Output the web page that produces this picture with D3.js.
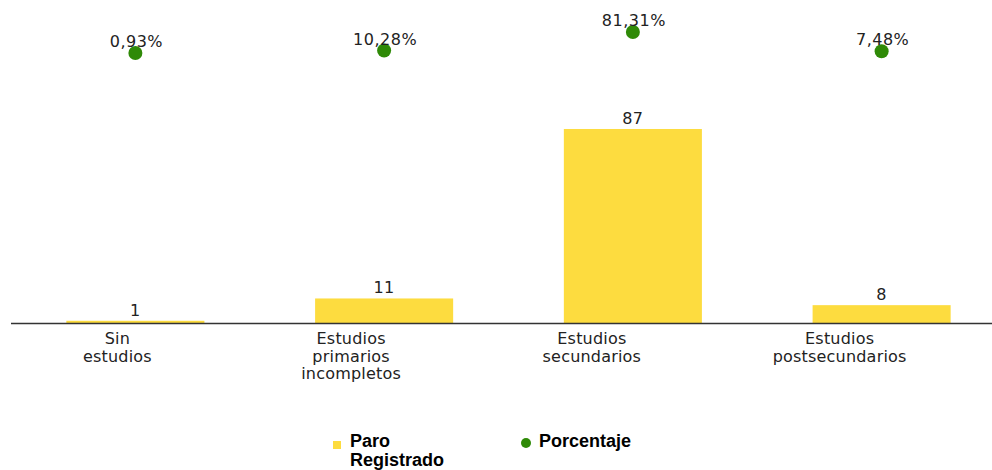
<!DOCTYPE html>
<html>
<head>
<meta charset="utf-8">
<script src="https://cdn.jsdelivr.net/npm/d3@7"></script>
<style>
  html, body { margin: 0; padding: 0; background: #fff; }
  svg { display: block; }
</style>
</head>
<body>
<div id="chart"></div>
<script>
// ==== data ====
const categories = [
  'Sin estudios',
  'Estudios primarios incompletos',
  'Estudios secundarios',
  'Estudios postsecundarios',
]
const categoryLines = [
  ['Sin', 'estudios'],
  ['Estudios', 'primarios', 'incompletos'],
  ['Estudios', 'secundarios'],
  ['Estudios', 'postsecundarios'],
]
const paroRegistrado = [1, 11, 87, 8]
const porcentaje = [0.93, 10.28, 81.31, 7.48]
const seriesNames = ['Paro Registrado', 'Porcentaje']

// ==== layout ====
const W = 992
const H = 470
const BAR_COLOR = '#fddc3f'
const DOT_COLOR = '#2f8a07'
const TEXT_COLOR = '#222'
const FONT = '"DejaVu Sans", Verdana, sans-serif'
// etiquetas de categoría algo desplazadas a la izquierda, como en el original
const labelShift = [-18, -33, -41, -42]

const svg = d3.select('#chart').append('svg')
  .attr('width', W)
  .attr('height', H)

const x = d3.scaleBand().domain(categories).range([11, 1006])
const barW = x.bandwidth() * 0.555

// barras: 0 -> eje, 100 -> y=100
const yBar = d3.scaleLinear().domain([0, 100]).range([323, 100])
// puntos de porcentaje en su propia escala, arriba del todo
const yPct = d3.scaleLinear().domain([0, 100]).range([53.2, 27.1])

const rows = categories.map((c, i) => ({
  cat: c,
  lines: categoryLines[i],
  paro: paroRegistrado[i],
  pct: porcentaje[i],
  shift: labelShift[i],
}))

const cx = d => x(d.cat) + x.bandwidth() / 2

// barras
svg.append('g').selectAll('rect')
  .data(rows)
  .join('rect')
  .attr('x', d => cx(d) - barW / 2)
  .attr('y', d => yBar(d.paro))
  .attr('width', barW)
  .attr('height', d => yBar(0) - yBar(d.paro))
  .attr('fill', BAR_COLOR)

// valores sobre las barras
svg.append('g').selectAll('text')
  .data(rows)
  .join('text')
  .attr('x', d => cx(d))
  .attr('y', d => yBar(d.paro) - 5)
  .attr('text-anchor', 'middle')
  .attr('font-family', FONT)
  .attr('font-size', 16)
  .attr('letter-spacing', 0.4)
  .attr('fill', TEXT_COLOR)
  .text(d => d.paro)

// eje
svg.append('line')
  .attr('x1', 11)
  .attr('x2', W)
  .attr('y1', yBar(0) + 0.5)
  .attr('y2', yBar(0) + 0.5)
  .attr('stroke', '#333')
  .attr('stroke-width', 1.5)

// etiquetas de categoría
const catG = svg.append('g').selectAll('text')
  .data(rows)
  .join('text')
  .attr('text-anchor', 'middle')
  .attr('font-family', FONT)
  .attr('font-size', 16)
  .attr('letter-spacing', 0.2)
  .attr('fill', TEXT_COLOR)
catG.selectAll('tspan')
  .data(d => d.lines.map(l => ({ l, d })))
  .join('tspan')
  .attr('x', o => cx(o.d) + o.d.shift)
  .attr('y', (o, i) => 344 + i * 17.5)
  .text(o => o.l)

// puntos de porcentaje
svg.append('g').selectAll('circle')
  .data(rows)
  .join('circle')
  .attr('cx', d => cx(d))
  .attr('cy', d => yPct(d.pct))
  .attr('r', 7)
  .attr('fill', DOT_COLOR)

const fmtPct = v => d3.format('.2f')(v).replace('.', ',') + '%'
svg.append('g').selectAll('text')
  .data(rows)
  .join('text')
  .attr('x', d => cx(d) + 1)
  .attr('y', d => yPct(d.pct) - 6)
  .attr('text-anchor', 'middle')
  .attr('font-family', FONT)
  .attr('font-size', 16)
  .attr('letter-spacing', 0.5)
  .attr('fill', TEXT_COLOR)
  .text(d => fmtPct(d.pct))

// leyenda
const legend = svg.append('g')
  .attr('font-family', '"Liberation Sans", Arial, sans-serif')
  .attr('font-weight', 'bold')
  .attr('font-size', 18)
  .attr('fill', '#000')

legend.append('rect')
  .attr('x', 333)
  .attr('y', 441)
  .attr('width', 8)
  .attr('height', 8)
  .attr('fill', BAR_COLOR)
const t1 = legend.append('text').attr('x', 350).attr('y', 447)
const parts = seriesNames[0].split(' ')
t1.selectAll('tspan')
  .data(parts)
  .join('tspan')
  .attr('x', 350)
  .attr('y', (d, i) => 447 + i * 18.5)
  .text(d => d)

legend.append('circle')
  .attr('cx', 526)
  .attr('cy', 443)
  .attr('r', 5)
  .attr('fill', DOT_COLOR)
legend.append('text')
  .attr('x', 539)
  .attr('y', 447)
  .text(seriesNames[1])
</script>
</body>
</html>
